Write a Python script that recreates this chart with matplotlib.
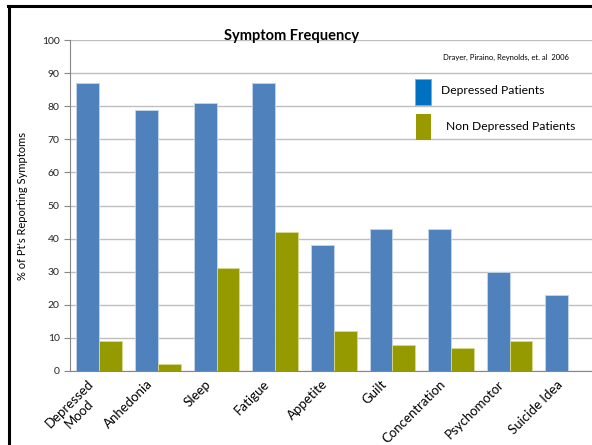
import numpy as np
import matplotlib.pyplot as plt
import matplotlib.transforms as mtransforms
from matplotlib.patches import Rectangle
from matplotlib.lines import Line2D

categories = ["Depressed\nMood", "Anhedonia", "Sleep", "Fatigue", "Appetite",
              "Guilt", "Concentration", "Psychomotor", "Suicide Idea"]
depressed = [87, 79, 81, 87, 38, 43, 43, 30, 23]
non_depressed = [9, 2, 31, 42, 12, 8, 7, 9, 0]

plt.rcParams['font.family'] = ['Lato', 'DejaVu Sans']

W, H = 592, 445
fig = plt.figure(figsize=(W / 100, H / 100), dpi=100)

# axes: x from 70 to ~597 px, y from 40 (100) to 371 (0)
ax = fig.add_axes([70 / W, 1 - 371 / H, 527.5 / W, 331 / H])

x = np.arange(len(categories))
bw = 0.39
ax.bar(x - bw / 2, depressed, bw, color='#4F81BD', edgecolor='#C6D6EA', linewidth=0.6, zorder=3)
ax.bar(x + bw / 2, non_depressed, bw, color='#949A00', edgecolor='#D8DB8A', linewidth=0.6, zorder=3)

ax.set_xlim(-0.5, len(categories) - 0.5)
ax.set_ylim(0, 100)
ax.set_yticks(range(0, 101, 10))
ax.yaxis.grid(True, color='#BFBFBF', linewidth=1)
ax.set_axisbelow(True)
ax.tick_params(axis='y', labelsize=7.5, length=4, color='#868686', labelcolor='#222222')
ax.tick_params(axis='x', length=0, pad=5)
for s in ['top', 'right']:
    ax.spines[s].set_visible(False)
ax.spines['left'].set_color('#868686')
ax.spines['bottom'].set_color('#868686')

ax.set_xticks(x)
ax.set_xticklabels(categories, rotation=45, ha='right', rotation_mode='anchor',
                   fontsize=9.5, multialignment='center')
shift = mtransforms.ScaledTranslation(-12 / 100, 0, fig.dpi_scale_trans)
for lbl in ax.get_xticklabels():
    lbl.set_transform(lbl.get_transform() + shift)
ax.set_ylabel("% of Pt's Reporting Symptoms", fontsize=8, labelpad=10)

fig.text(292 / W, 1 - 36 / H, "Symptom Frequency", fontsize=10.5, fontweight='bold',
         ha='center', va='center')
fig.text(506 / W, 1 - 57 / H, "Drayer, Piraino, Reynolds, et. al  2006", fontsize=5.5,
         ha='center', va='center')

# legend patches and labels
fig.add_artist(Rectangle((415 / W, 1 - 105 / H), 16 / W, 26 / H, transform=fig.transFigure,
                         facecolor='#0070C0', edgecolor='#7FA7D9', linewidth=0.6))
fig.text(441 / W, 1 - 90 / H, "Depressed Patients", fontsize=8.7, ha='left', va='center')
fig.add_artist(Rectangle((416 / W, 1 - 140 / H), 15 / W, 26 / H, transform=fig.transFigure,
                         facecolor='#999900', edgecolor='none'))
fig.text(446 / W, 1 - 126 / H, "Non Depressed Patients", fontsize=8.7, ha='left', va='center')

# slide border (top and left)
fig.add_artist(Line2D([9 / W, 9 / W], [0, 1 - 6 / H], transform=fig.transFigure,
                      color='black', linewidth=2.2))
fig.add_artist(Line2D([8 / W, 1], [1 - 6 / H, 1 - 6 / H], transform=fig.transFigure,
                      color='black', linewidth=2.2))

fig.savefig('out.png', dpi=100)
